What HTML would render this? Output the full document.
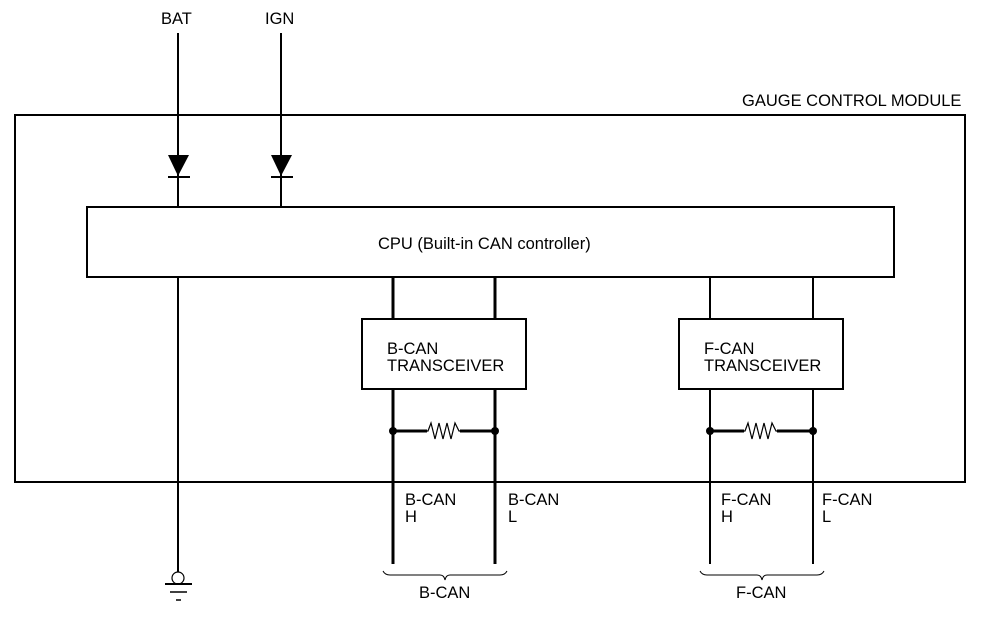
<!DOCTYPE html>
<html><head><style>
html,body{margin:0;padding:0;background:#fff;}
svg text{font-family:"Liberation Sans",sans-serif;font-size:16.5px;fill:#000;}
</style></head><body>
<svg width="992" height="612" viewBox="0 0 992 612" xmlns="http://www.w3.org/2000/svg">
<g fill="none" stroke="#000">
<rect x="15" y="115" width="950" height="367" stroke-width="2"/>
<rect x="87" y="207" width="807" height="70" stroke-width="2"/>
<rect x="362" y="319" width="164" height="70" stroke-width="2"/>
<rect x="679" y="319" width="164" height="70" stroke-width="2"/>
<line x1="178" y1="33" x2="178" y2="207" stroke-width="2"/>
<line x1="281" y1="33" x2="281" y2="207" stroke-width="2"/>
<line x1="168" y1="177" x2="190" y2="177" stroke-width="2"/>
<line x1="271" y1="177" x2="293" y2="177" stroke-width="2"/>
<line x1="178" y1="277" x2="178" y2="572" stroke-width="2"/>
<circle cx="178" cy="578" r="6" stroke-width="1.2"/>
<line x1="165" y1="584" x2="192" y2="584" stroke-width="2"/>
<line x1="170" y1="592" x2="187" y2="592" stroke-width="1.5"/>
<line x1="176" y1="600" x2="181" y2="600" stroke-width="1.5"/>
<line x1="393" y1="277" x2="393" y2="319" stroke-width="3"/>
<line x1="495" y1="277" x2="495" y2="319" stroke-width="3"/>
<line x1="393" y1="389" x2="393" y2="564" stroke-width="3"/>
<line x1="495" y1="389" x2="495" y2="564" stroke-width="3"/>
<polyline points="393,431 428,431 431,423 435,439 439,423 443,439 447,423 451,439 455,423 459,431 495,431" stroke-width="1.2"/>
<line x1="393" y1="431" x2="427" y2="431" stroke-width="3"/>
<line x1="460" y1="431" x2="495" y2="431" stroke-width="3"/>
<line x1="710" y1="277" x2="710" y2="319" stroke-width="2"/>
<line x1="813" y1="277" x2="813" y2="319" stroke-width="2"/>
<line x1="710" y1="389" x2="710" y2="564" stroke-width="2"/>
<line x1="813" y1="389" x2="813" y2="564" stroke-width="2"/>
<polyline points="710,431 745,431 748,423 752,439 756,423 760,439 764,423 768,439 772,423 776,431 813,431" stroke-width="1.2"/>
<line x1="710" y1="431" x2="744" y2="431" stroke-width="3"/>
<line x1="777" y1="431" x2="813" y2="431" stroke-width="3"/>
<path d="M383,571 Q385,575 390,575 L440,575 Q444,575 445,580 Q446,575 450,575 L500,575 Q505,575 507,571" stroke-width="1"/>
<path d="M700,571 Q702,575 707,575 L757,575 Q761,575 762,580 Q763,575 767,575 L817,575 Q822,575 824,571" stroke-width="1"/>
</g>
<g fill="#000">
<polygon points="168,155 189,155 178,176"/>
<polygon points="271,155 292,155 281,176"/>
<circle cx="393" cy="431" r="4"/><circle cx="495" cy="431" r="4"/>
<circle cx="710" cy="431" r="4"/><circle cx="813" cy="431" r="4"/>
</g>
<text x="161" y="24">BAT</text>
<text x="265" y="24">IGN</text>
<text x="742" y="106">GAUGE CONTROL MODULE</text>
<text x="378" y="249">CPU (Built-in CAN controller)</text>
<text x="387" y="354">B-CAN</text>
<text x="387" y="371">TRANSCEIVER</text>
<text x="704" y="354">F-CAN</text>
<text x="704" y="371">TRANSCEIVER</text>
<text x="405" y="505">B-CAN</text><text x="405" y="522">H</text>
<text x="508" y="505">B-CAN</text><text x="508" y="522">L</text>
<text x="721" y="505">F-CAN</text><text x="721" y="522">H</text>
<text x="822" y="505">F-CAN</text><text x="822" y="522">L</text>
<text x="419" y="598">B-CAN</text>
<text x="736" y="598">F-CAN</text>
</svg>
</body></html>
